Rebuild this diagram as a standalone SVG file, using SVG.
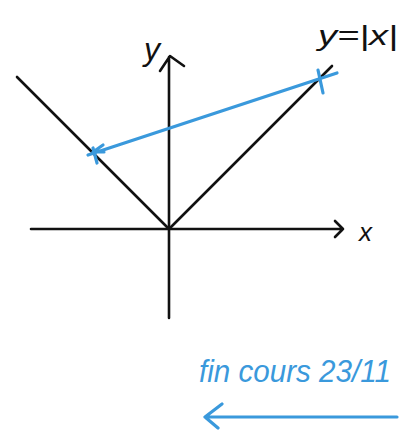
<svg xmlns="http://www.w3.org/2000/svg" width="407" height="430" viewBox="0 0 407 430">
<style>
.k{stroke:#111;stroke-width:2.6;fill:none;stroke-linecap:round;stroke-linejoin:round}
.b{stroke:#3a99dc;stroke-width:3.2;fill:none;stroke-linecap:round;stroke-linejoin:round}
.tk{font-family:"Liberation Sans",Arial,sans-serif;font-style:italic;fill:#111}
.tb{font-family:"Liberation Sans",Arial,sans-serif;font-style:italic;fill:#3a99dc}
</style>
<rect width="407" height="430" fill="#fff"/>
<g id="axes">
<path class="k" d="M31 229 L343 229 M335 221 L343 229 L335 237"/>
<path class="k" d="M169 318 L169 57 M160 71 L170 56 L184 66"/>
<text class="tk" x="359" y="241" font-size="26">x</text>
<text class="tk" x="144" y="60" font-size="32">y</text>
</g>
<g id="graph">
<path class="k" d="M17 77 L169 229 L332 66"/>
<text class="tk" x="318" y="45" font-size="28" textLength="80" lengthAdjust="spacingAndGlyphs">y=|x|</text>
</g>
<g id="connectors">
<path class="b" d="M337 73 L88 155 M103 145 L93 152 L104 152"/>
<path class="b" d="M318 70 L323 93 M93 148 L97 163"/>
<path class="b" d="M397 417 L205 417 M222 404 L205 417 L218 428" stroke-width="3.6"/>
</g>
<g id="note">
<text class="tb" x="199" y="382" font-size="32" textLength="192" lengthAdjust="spacingAndGlyphs">fin cours 23/11</text>
</g>
</svg>
